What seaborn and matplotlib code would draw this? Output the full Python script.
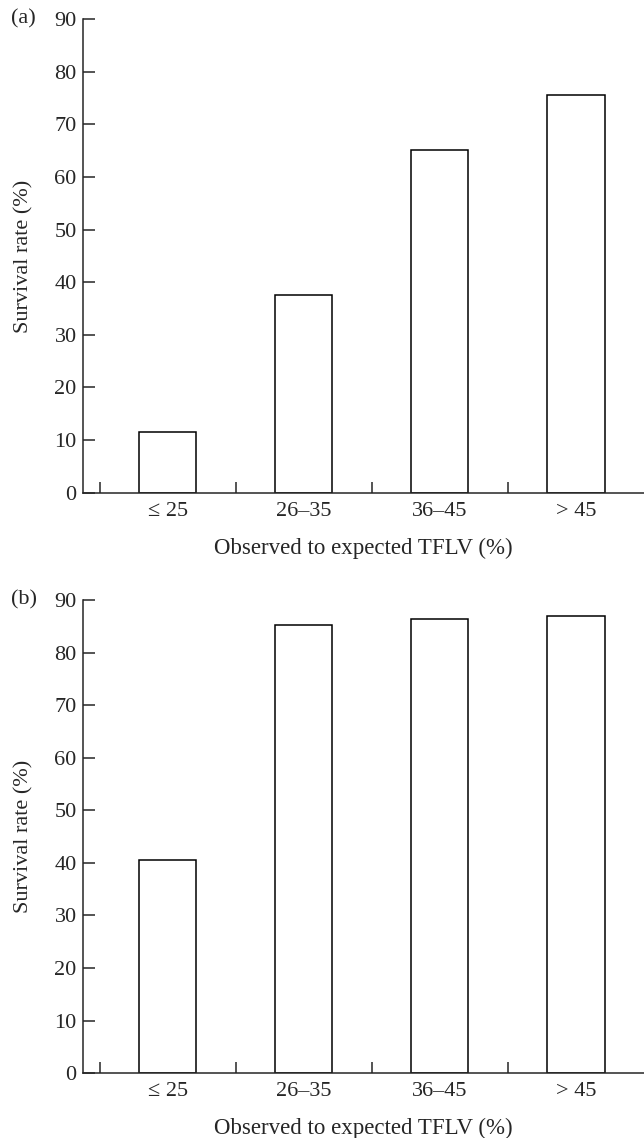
"""
Survival rate by observed-to-expected TFLV group, panels (a) and (b).
"""

import matplotlib
matplotlib.use("Agg")
import matplotlib.pyplot as plt
import pandas as pd
import seaborn as sns

# ── Data ──────────────────────────────────────────────────────────────────────
tflv_groups = ["≤ 25", "26–35", "36–45", "> 45"]
survival_a  = [11.6, 37.6, 65.1, 75.5]
survival_b  = [40.5, 85.2, 86.4, 86.9]
panel_tags  = ["(a)", "(b)"]
y_ticks     = [0, 10, 20, 30, 40, 50, 60, 70, 80, 90]

# ── Style ─────────────────────────────────────────────────────────────────────
sns.set_style("ticks")
plt.rcParams["font.family"] = ["Liberation Serif", "DejaVu Serif"]
plt.rcParams["axes.linewidth"] = 1.1

fig = plt.figure(figsize=(6.44, 11.38), dpi=100)
ax_a = fig.add_axes([0.1293, 0.5670, 0.8707, 0.4163])
ax_b = fig.add_axes([0.1293, 0.0569, 0.8707, 0.4159])


def draw_panel(ax, values, tag):
    df = pd.DataFrame({"group": tflv_groups, "survival": values})
    sns.barplot(data=df, x="group", y="survival", ax=ax,
                color="white", saturation=1, edgecolor="black",
                linewidth=1.1, width=0.42)
    ax.set_xlim(-0.62, 3.5)
    ax.set_ylim(0, 90)
    ax.set_yticks(y_ticks)
    ax.tick_params(axis="y", direction="in", length=8.4, width=1.1,
                   pad=4.8, labelsize=16)
    # major x ticks only carry the labels, boundary ticks point inwards
    ax.tick_params(axis="x", which="major", length=0, pad=6.5, labelsize=16)
    ax.set_xticks([-0.5, 0.5, 1.5, 2.5], minor=True)
    ax.tick_params(axis="x", which="minor", direction="in", length=8, width=1.1)
    sns.despine(ax=ax)
    ax.set_xlabel("Observed to expected TFLV (%)", fontsize=16.5, labelpad=12)
    ax.set_ylabel("Survival rate (%)", fontsize=16, labelpad=15)
    ax.text(-0.128, 1.0, tag, transform=ax.transAxes, fontsize=16,
            ha="left", va="center")


draw_panel(ax_a, survival_a, panel_tags[0])
draw_panel(ax_b, survival_b, panel_tags[1])

fig.savefig("out.png", dpi=100)
plt.close(fig)
